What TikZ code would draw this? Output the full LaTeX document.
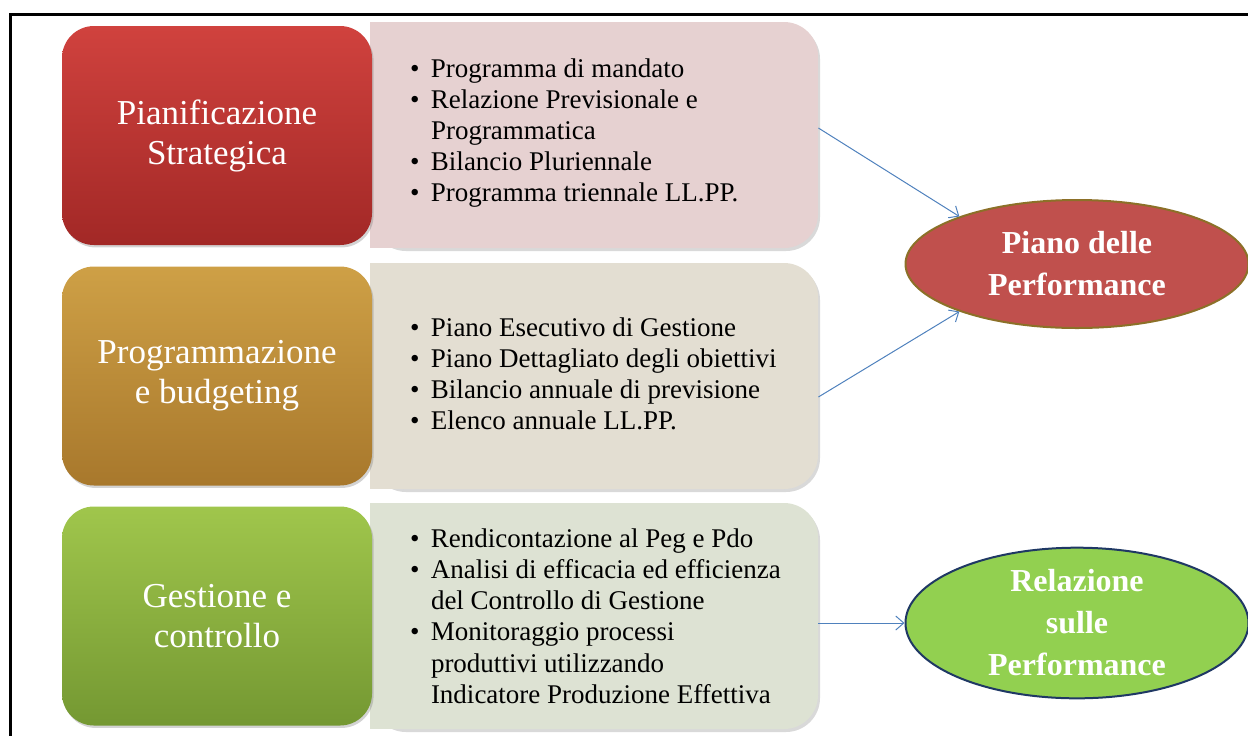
\documentclass[tikz,border=0pt]{standalone}
\usepackage{fontspec}
\setmainfont{Liberation Serif}
\usetikzlibrary{shapes.geometric,shadows,arrows.meta}
\definecolor{redtop}{RGB}{208,66,62}
\definecolor{redbot}{RGB}{162,40,38}
\definecolor{goldtop}{RGB}{206,160,70}
\definecolor{goldbot}{RGB}{168,120,44}
\definecolor{greentop}{RGB}{160,198,76}
\definecolor{greenbot}{RGB}{116,152,50}
\definecolor{pinkbg}{RGB}{230,209,209}
\definecolor{beigebg}{RGB}{227,222,210}
\definecolor{sagebg}{RGB}{221,226,211}
\definecolor{pianofill}{RGB}{192,80,77}
\definecolor{pianoline}{RGB}{140,112,40}
\definecolor{relfill}{RGB}{146,208,80}
\definecolor{relline}{RGB}{31,56,100}
\definecolor{arrowblue}{RGB}{79,129,189}
\newcommand{\itm}{\makebox[10.5pt][l]{\textbullet}}
\newcommand{\cnt}{\hspace*{10.5pt}}
\tikzset{
stagebox/.style={
  rounded corners=16pt,
  minimum width=155pt,
  minimum height=109.5pt,
  text=white,
  align=center,
  font=\fontsize{17.5}{20}\selectfont,
  drop shadow={shadow xshift=0.8pt,shadow yshift=-1.2pt,opacity=0.35}
  },
listbox/.style={
  rounded corners=17pt,
  minimum width=224pt,
  minimum height=113pt,
  inner sep=0pt,
  drop shadow={shadow xshift=1pt,shadow yshift=-1.5pt,opacity=0.3}
  },
listtext/.style={
  anchor=west,
  align=left,
  inner sep=0pt,
  font=\fontsize{13.5}{15.6}\selectfont
  },
outcome/.style={
  ellipse,
  minimum width=171.5pt,
  minimum height=64pt,
  inner sep=0pt,
  line width=1pt,
  text=white,
  align=center,
  font=\bfseries\fontsize{16}{21}\selectfont
  },
link/.style={
  draw=arrowblue,
  line width=0.5pt,
  -{Straight Barb[length=4pt,width=7pt]}
  }
}

\begin{document}
\begin{tikzpicture}[x=0.5pt,y=-0.5pt]
\useasboundingbox (0,0) rectangle (1248,735);

% frame
\draw[line width=1.5pt] (10.5,740) -- (10.5,14.5) -- (1260,14.5);

% list boxes (square on the left)
\node[listbox,fill=pinkbg] (list1) at (594,135) {};
\fill[pinkbg] (list1.north west) rectangle (list1.south);
\node[listbox,fill=beigebg] (list2) at (594,376) {};
\fill[beigebg] (list2.north west) rectangle (list2.south);
\node[listbox,fill=sagebg] (list3) at (594,616) {};
\fill[sagebg] (list3.north west) rectangle (list3.south);

\node[listtext] (txt1) at ([xshift=20pt,yshift=1pt]list1.west)
{\itm Programma di mandato\\
 \itm Relazione Previsionale e\\
 \cnt Programmatica\\
 \itm Bilancio Pluriennale\\
 \itm Programma triennale LL.PP.};
\node[listtext] (txt2) at ([xshift=20pt,yshift=1pt]list2.west)
{\itm Piano Esecutivo di Gestione\\
 \itm Piano Dettagliato degli obiettivi\\
 \itm Bilancio annuale di previsione\\
 \itm Elenco annuale LL.PP.};
\node[listtext] (txt3) at ([xshift=20pt]list3.west)
{\itm Rendicontazione al Peg e Pdo\\
 \itm Analisi di efficacia ed efficienza\\
 \cnt del Controllo di Gestione\\
 \itm Monitoraggio processi\\
 \cnt produttivi utilizzando\\
 \cnt Indicatore Produzione Effettiva};

% stages
\node[stagebox,top color=redtop,bottom color=redbot] (plan) at (217,135.5)
  {Pianificazione\\Strategica};
\node[stagebox,top color=goldtop,bottom color=goldbot] (budget) at (217,376)
  {Programmazione\\e budgeting};
\node[stagebox,top color=greentop,bottom color=greenbot] (control) at (217,616)
  {Gestione e\\controllo};

% outcomes
\node[outcome,fill=pianofill,draw=pianoline] (piano) at (1077,264)
  {Piano delle\\Performance};
\node[outcome,fill=relfill,draw=relline] (relazione) at (1077,623)
  {Relazione\\sulle\\Performance};

\begin{scope}
\draw[link] ([yshift=3.5pt]list1.east) -- (piano.158);
\draw[link] ([yshift=-10.5pt]list2.east) -- (piano.202);
\draw[link] ([yshift=-3.5pt]list3.east) -- (relazione.west);
\end{scope}
\end{tikzpicture}
\end{document}
